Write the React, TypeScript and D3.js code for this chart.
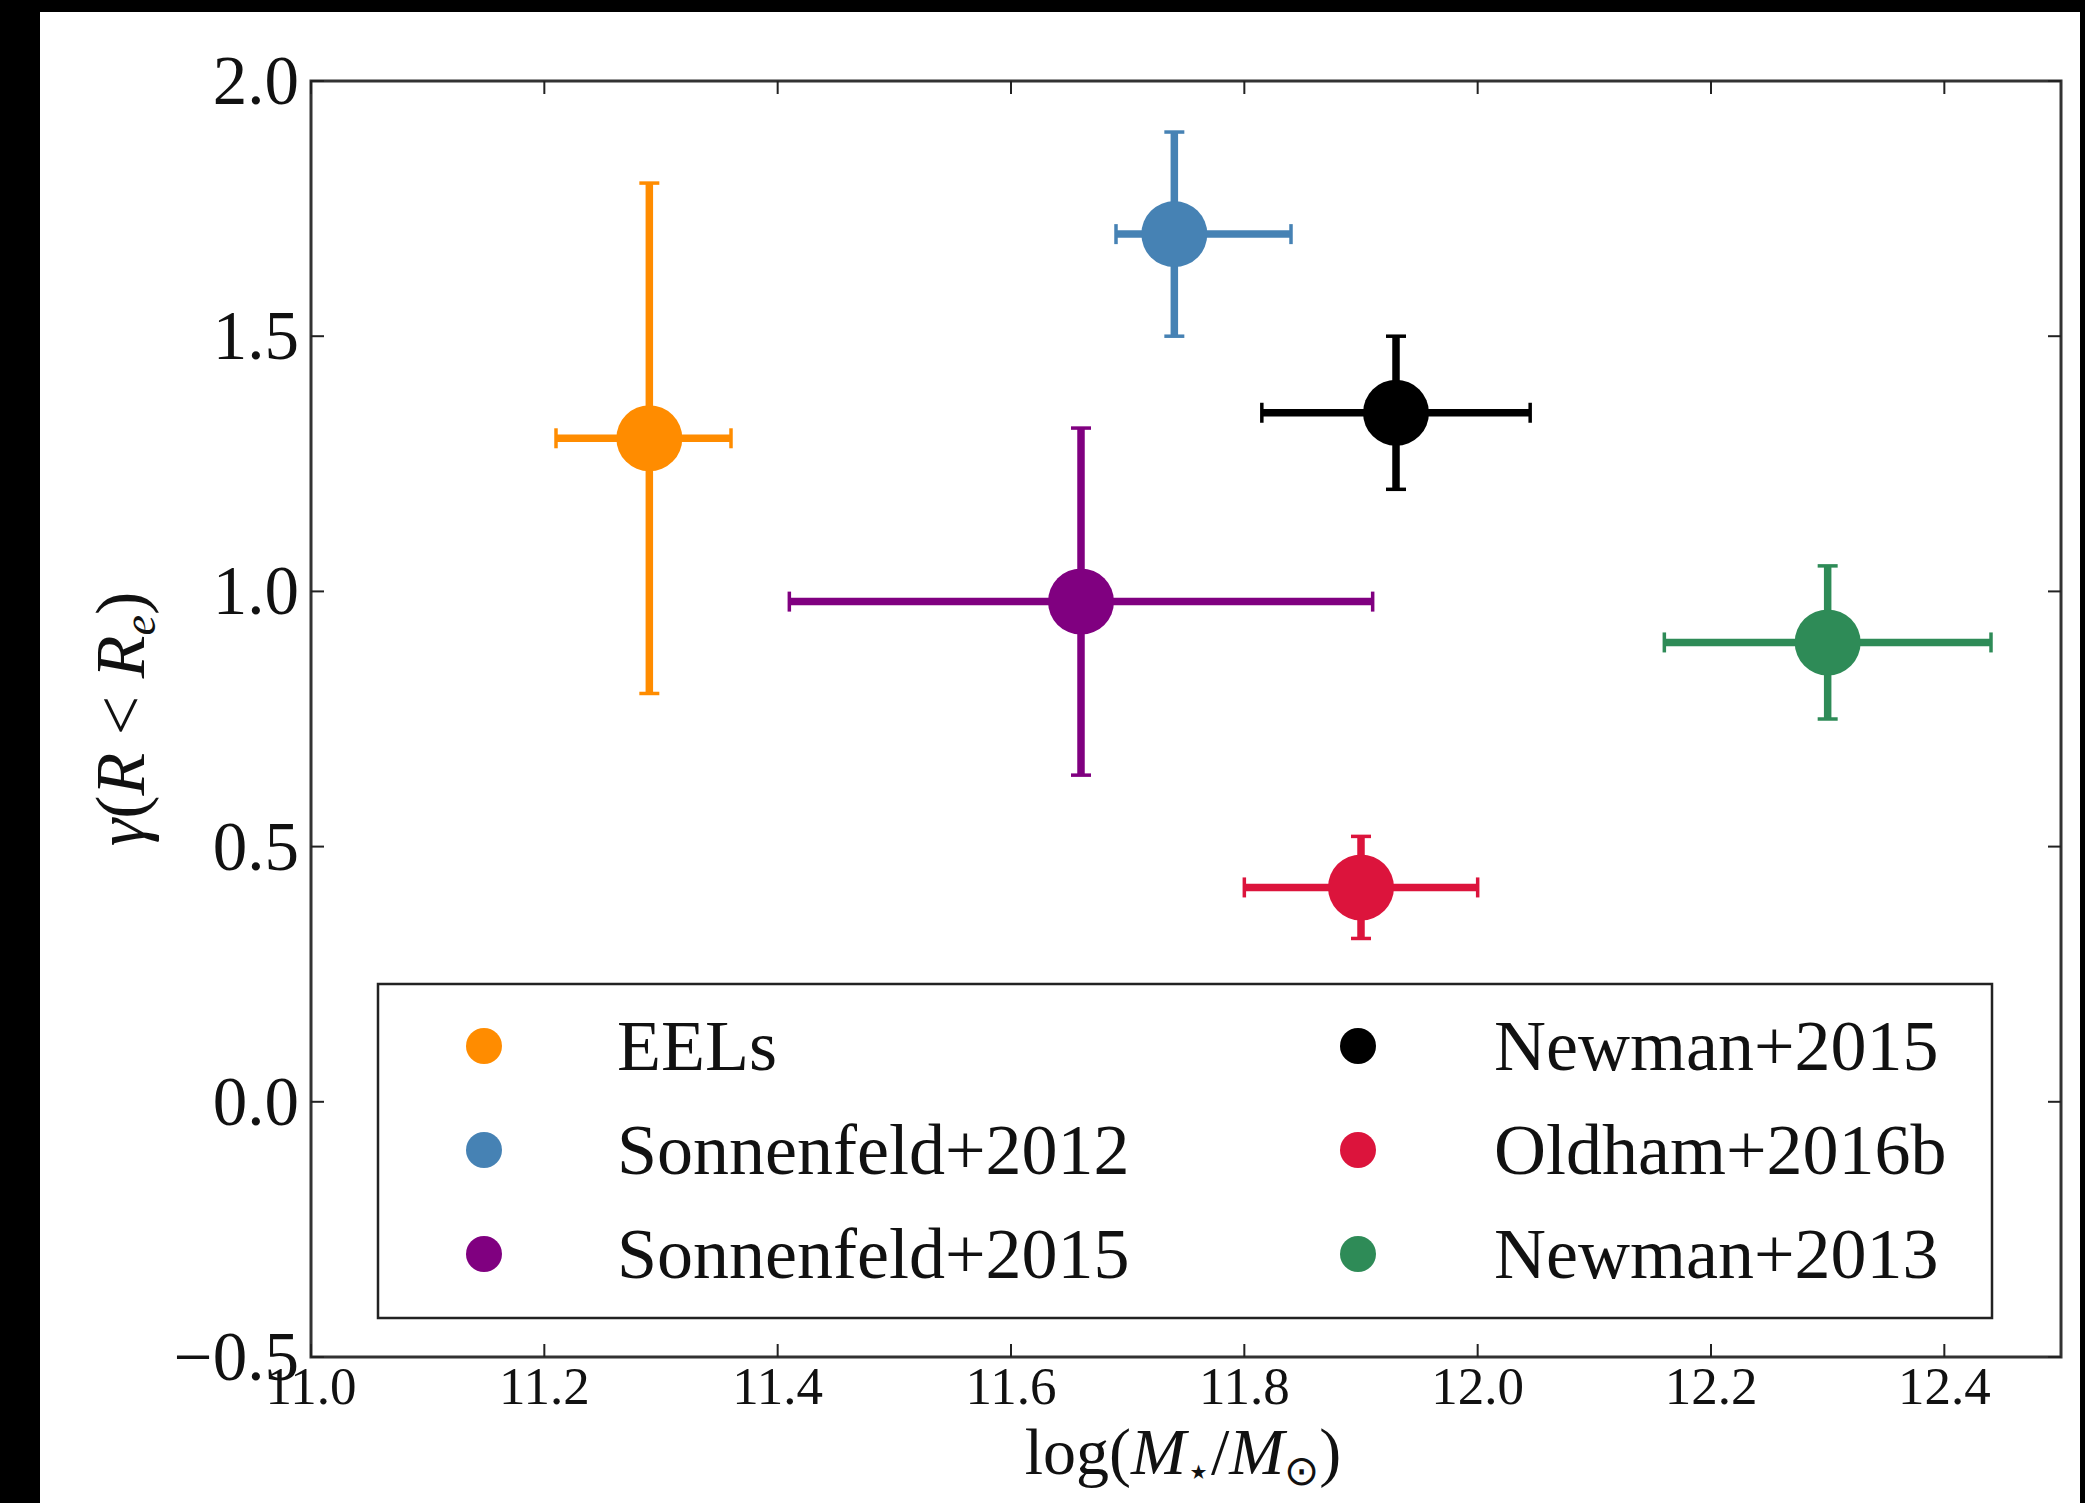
import React from "react";
import * as d3 from "d3";

const labels = ["EELs", "Sonnenfeld+2012", "Sonnenfeld+2015", "Newman+2015", "Oldham+2016b", "Newman+2013"];
const colors = ["#FF8C00", "#4682B4", "#800080", "#000000", "#DC143C", "#2E8B57"];
const xVals = [11.29, 11.74, 11.66, 11.93, 11.9, 12.3];
const yVals = [1.3, 1.7, 0.98, 1.35, 0.42, 0.9];
const xErrLo = [0.08, 0.05, 0.25, 0.115, 0.1, 0.14];
const xErrHi = [0.07, 0.1, 0.25, 0.115, 0.1, 0.14];
const yErrLo = [0.5, 0.2, 0.34, 0.15, 0.1, 0.15];
const yErrHi = [0.5, 0.2, 0.34, 0.15, 0.1, 0.15];
const xTicks = [11.0, 11.2, 11.4, 11.6, 11.8, 12.0, 12.2, 12.4];
const yTicks = [-0.5, 0.0, 0.5, 1.0, 1.5, 2.0];

const W = 2085;
const H = 1503;
const L = 311, R = 2061, T = 81, B = 1357;
const FONT = "'Liberation Serif', 'Times New Roman', serif";

export default function App() {
  const x = d3.scaleLinear().domain([11.0, 12.5]).range([L, R]);
  const y = d3.scaleLinear().domain([-0.5, 2.0]).range([B, T]);
  const fmt = (v: number) => d3.format(".1f")(v).replace("-", "\u2212");
  const tickLen = 13;
  const cap = 10;
  const ew = 7.5;

  const legendRows = [1046, 1150, 1254];
  const legendMarkerX = [484, 1358];
  const legendTextX = [617, 1494];

  return (
    <div style={{ position: "fixed", left: 0, top: 0 }}>
      <svg width={W} height={H} style={{ display: "block" }}>
        <rect x={0} y={0} width={W} height={H} fill="#000" />
        <rect x={40} y={12} width={2040} height={H - 12} fill="#fff" />

        {/* error bars and markers */}
        {xVals.map((xv, i) => {
          const cx = x(xv), cy = y(yVals[i]);
          const x0 = x(xv - xErrLo[i]), x1 = x(xv + xErrHi[i]);
          const y0 = y(yVals[i] - yErrLo[i]), y1 = y(yVals[i] + yErrHi[i]);
          const c = colors[i];
          return (
            <g key={labels[i]}>
              <line x1={x0} x2={x1} y1={cy} y2={cy} stroke={c} strokeWidth={ew} />
              <line x1={cx} x2={cx} y1={y0} y2={y1} stroke={c} strokeWidth={ew} />
              <line x1={x0} x2={x0} y1={cy - cap} y2={cy + cap} stroke={c} strokeWidth={3.5} />
              <line x1={x1} x2={x1} y1={cy - cap} y2={cy + cap} stroke={c} strokeWidth={3.5} />
              <line x1={cx - cap} x2={cx + cap} y1={y0} y2={y0} stroke={c} strokeWidth={3.5} />
              <line x1={cx - cap} x2={cx + cap} y1={y1} y2={y1} stroke={c} strokeWidth={3.5} />
              <circle cx={cx} cy={cy} r={33} fill={c} />
            </g>
          );
        })}

        {/* legend */}
        <rect x={378} y={984} width={1614} height={334} fill="#fff" stroke="#222" strokeWidth={2.5} />
        {labels.map((lab, i) => {
          const col = Math.floor(i / 3);
          const row = i % 3;
          return (
            <g key={"leg" + lab}>
              <circle cx={legendMarkerX[col]} cy={legendRows[row]} r={18} fill={colors[i]} />
              <text x={legendTextX[col]} y={legendRows[row] + 24} fontFamily={FONT} fontSize={72} fill="#111">
                {lab}
              </text>
            </g>
          );
        })}

        {/* frame */}
        <rect x={L} y={T} width={R - L} height={B - T} fill="none" stroke="#333" strokeWidth={3} />

        {/* ticks */}
        {xTicks.map((t) => (
          <g key={"xt" + t}>
            <line x1={x(t)} x2={x(t)} y1={B} y2={B - tickLen} stroke="#222" strokeWidth={2} />
            <line x1={x(t)} x2={x(t)} y1={T} y2={T + tickLen} stroke="#222" strokeWidth={2} />
            <text x={x(t)} y={1404} textAnchor="middle" fontFamily={FONT} fontSize={53} fill="#111">
              {fmt(t)}
            </text>
          </g>
        ))}
        {yTicks.map((t) => (
          <g key={"yt" + t}>
            <line x1={L} x2={L + tickLen} y1={y(t)} y2={y(t)} stroke="#222" strokeWidth={2} />
            <line x1={R} x2={R - tickLen} y1={y(t)} y2={y(t)} stroke="#222" strokeWidth={2} />
            <text x={299} y={y(t) + 23} textAnchor="end" fontFamily={FONT} fontSize={69} fill="#111">
              {fmt(t)}
            </text>
          </g>
        ))}

        {/* axis labels */}
        <text x={1183} y={1474} textAnchor="middle" fontFamily={FONT} fontSize={66} fill="#111">
          <tspan>log(</tspan>
          <tspan fontStyle="italic">M</tspan>
          <tspan fontSize={40} dy={11}>{"\u22C6"}</tspan>
          <tspan dy={-11}>/</tspan>
          <tspan fontStyle="italic">M</tspan>
          <tspan fontSize={42} dy={11}>{"\u2299"}</tspan>
          <tspan dy={-11}>)</tspan>
        </text>
        <text transform={`translate(144, ${(T + B) / 2}) rotate(-90)`} textAnchor="middle" fontFamily={FONT} fontSize={70} fill="#111">
          <tspan fontStyle="italic">{"\u03B3"}</tspan>
          <tspan>(</tspan>
          <tspan fontStyle="italic">R</tspan>
          <tspan>{" < "}</tspan>
          <tspan fontStyle="italic">R</tspan>
          <tspan fontStyle="italic" fontSize={46} dy={11}>e</tspan>
          <tspan dy={-11}>)</tspan>
        </text>
      </svg>
    </div>
  );
}
